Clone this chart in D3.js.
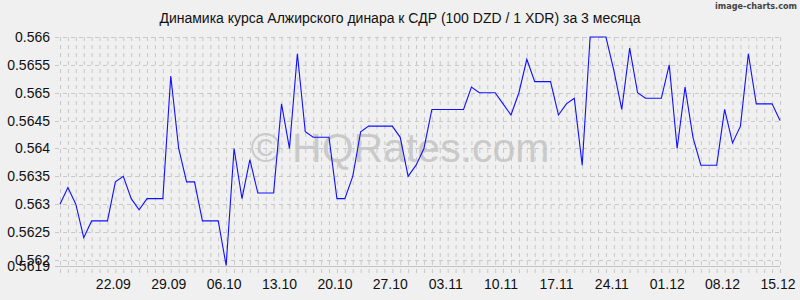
<!DOCTYPE html>
<html>
<head>
<meta charset="utf-8">
<script src="https://cdn.jsdelivr.net/npm/d3@7"></script>
<style>
  body { margin: 0; background: #f0f0f0; }
  svg { display: block; font-family: "Liberation Sans", Arial, sans-serif; }
</style>
</head>
<body>
<div id="chart"></div>
<script>
// course of 100 DZD in XDR, one value per day from 15.09
var startDay = "2023-09-15";
var rates = [
    0.5630, 0.5633, 0.5630, 0.5624, 0.5627, 0.5627, 0.5627, 0.5634, 0.5635, 0.5631,
    0.5629, 0.5631, 0.5631, 0.5631, 0.5653, 0.5640, 0.5634, 0.5634, 0.5627, 0.5627,
    0.5627, 0.5619, 0.5640, 0.5631, 0.5638, 0.5632, 0.5632, 0.5632, 0.5648, 0.5640,
    0.5657, 0.5643, 0.5642, 0.5642, 0.5642, 0.5631, 0.5631, 0.5635, 0.5643, 0.5644,
    0.5644, 0.5644, 0.5644, 0.5642, 0.5635, 0.5637, 0.5640, 0.5647, 0.5647, 0.5647,
    0.5647, 0.5647, 0.5651, 0.5650, 0.5650, 0.5650, 0.5648, 0.5646, 0.5650, 0.5656,
    0.5652, 0.5652, 0.5652, 0.5646, 0.5648, 0.5649, 0.5637, 0.5660, 0.5660, 0.5660,
    0.5654, 0.5647, 0.5658, 0.5650, 0.5649, 0.5649, 0.5649, 0.5655, 0.5640, 0.5651,
    0.5642, 0.5637, 0.5637, 0.5637, 0.5647, 0.5641, 0.5644, 0.5657, 0.5648, 0.5648,
    0.5648, 0.5645
];
var yTicks = [0.5619, 0.562, 0.5625, 0.563, 0.5635, 0.564, 0.5645, 0.565, 0.5655, 0.566];
var xTickLabels = ["22.09", "29.09", "06.10", "13.10", "20.10", "27.10", "03.11",
    "10.11", "17.11", "24.11", "01.12", "08.12", "15.12"];

var width = 800, height = 300;
var margin = { left: 60, right: 20, top: 37, bottom: 34.5 };

var parse = d3.timeParse("%Y-%m-%d");
var fmt = d3.timeFormat("%d.%m");
var day0 = parse(startDay);
var dates = rates.map((v, i) => d3.timeDay.offset(day0, i));
var data = rates.map((v, i) => ({ date: dates[i], value: v }));

var svg = d3.select("#chart").append("svg")
    .attr("width", width)
    .attr("height", height);

var x = d3.scaleTime()
    .domain(d3.extent(dates))
    .range([margin.left, width - margin.right]);
var y = d3.scaleLinear()
    .domain([0.5619, 0.566])
    .range([height - margin.bottom, margin.top]);

// vertical grid, one dashed line per day, running past the axis
svg.append("g")
    .selectAll("line")
    .data(dates)
    .enter()
    .append("line")
    .attr("x1", (d) => x(d) + 0.5)
    .attr("x2", (d) => x(d) + 0.5)
    .attr("y1", margin.top)
    .attr("y2", height - margin.bottom + 8)
    .attr("stroke", "#c8c8c8")
    .attr("stroke-dasharray", "4,4");

// horizontal grid
svg.append("g")
    .selectAll("line")
    .data(yTicks.filter((d) => d != 0.5619))
    .enter()
    .append("line")
    .attr("x1", margin.left - 5)
    .attr("x2", width - margin.right)
    .attr("y1", (d) => Math.round(y(d)) + 0.5)
    .attr("y2", (d) => Math.round(y(d)) + 0.5)
    .attr("stroke", "#c8c8c8")
    .attr("stroke-dasharray", "4,4");

// bottom axis line
svg.append("line")
    .attr("x1", margin.left - 5)
    .attr("x2", width - margin.right)
    .attr("y1", Math.round(y(0.5619)) + 0.5)
    .attr("y2", Math.round(y(0.5619)) + 0.5)
    .attr("stroke", "#c4c4c4");

// watermark
svg.append("text")
    .attr("x", 400)
    .attr("y", 162)
    .attr("text-anchor", "middle")
    .attr("font-size", 41)
    .attr("fill", "#c4c4c4")
    .attr("fill-opacity", 0.85)
    .text("© HQRates.com");

// y labels
svg.append("g")
    .selectAll("text")
    .data(yTicks)
    .enter()
    .append("text")
    .attr("x", margin.left - 10)
    .attr("y", (d) => y(d) + 5)
    .attr("text-anchor", "end")
    .attr("font-size", 14)
    .attr("fill", "#111")
    .text((d) => d);

// x labels
var xTickDates = dates.filter((d) => xTickLabels.includes(fmt(d)));
svg.append("g")
    .selectAll("text")
    .data(xTickDates)
    .enter()
    .append("text")
    .attr("x", (d) => x(d) - 2)
    .attr("y", 289)
    .attr("text-anchor", "middle")
    .attr("font-size", 14)
    .attr("fill", "#111")
    .text((d) => fmt(d));

// rate line
var line = d3.line()
    .x((d) => x(d.date))
    .y((d) => y(d.value));
svg.append("path")
    .datum(data)
    .attr("d", line)
    .attr("fill", "none")
    .attr("stroke", "#1010ff")
    .attr("stroke-width", 1.1);

// title
svg.append("text")
    .attr("x", 400)
    .attr("y", 23)
    .attr("text-anchor", "middle")
    .attr("font-size", 14)
    .attr("fill", "#111")
    .text("Динамика курса Алжирского динара к СДР (100 DZD / 1 XDR) за 3 месяца");

svg.append("text")
    .attr("x", 797)
    .attr("y", 9)
    .attr("text-anchor", "end")
    .attr("font-size", 9)
    .attr("font-family", "'DejaVu Sans Condensed', sans-serif")
    .attr("font-weight", "bold")
    .attr("fill", "#444")
    .text("image-charts.com");
</script>
</body>
</html>
